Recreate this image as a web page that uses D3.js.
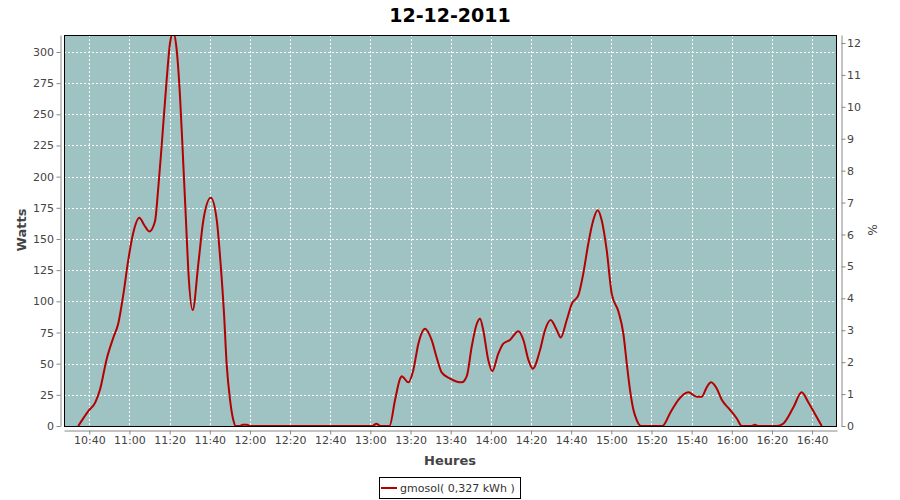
<!DOCTYPE html>
<html>
<head>
<meta charset="utf-8">
<script src="https://cdn.jsdelivr.net/npm/d3@7"></script>
<style>
  html, body { margin: 0; padding: 0; background: #fff; }
  svg { display: block; font-family: "DejaVu Sans", sans-serif; }
</style>
</head>
<body>
<svg id="chart" width="900" height="500"></svg>
<script>
// ---- data ----
const title = "12-12-2011";
const seriesName = "gmosol( 0,327 kWh )";
const times = [
  "10:34:30","10:39:30","10:43:00","10:45:18","10:48:42","10:52:00","10:54:24","10:57:00","10:59:24",
  "11:01:54","11:04:54","11:07:24","11:09:54","11:12:42","11:14:24","11:16:00","11:18:30","11:20:12",
  "11:21:48","11:23:30","11:25:12","11:26:48","11:28:12","11:29:18","11:31:30","11:34:18","11:36:48",
  "11:40:30","11:43:30","11:45:24","11:47:06","11:48:24","11:50:06","11:51:42","11:52:54","11:55:00",
  "11:56:30","11:58:30","12:00:00","12:30:00","13:01:00","13:03:00","13:05:00","13:09:30","13:12:18",
  "13:14:48","13:15:36","13:18:54","13:21:24","13:23:54","13:27:12","13:30:30","13:33:00","13:35:30",
  "13:39:42","13:45:30","13:48:00","13:50:30","13:53:00","13:54:36","13:56:12","13:58:42","14:00:42",
  "14:03:42","14:06:12","14:09:30","14:13:42","14:16:12","14:18:42","14:20:54","14:24:30","14:27:00",
  "14:29:48","14:32:48","14:34:48","14:37:48","14:40:18","14:43:36","14:46:00","14:48:30","14:51:00",
  "14:53:12","14:55:12","14:57:42","15:00:12","15:03:30","15:06:00","15:07:42","15:09:18","15:11:00",
  "15:12:36","15:14:48","15:20:00","15:25:24","15:29:30","15:33:24","15:38:24","15:42:30","15:45:00",
  "15:47:30","15:49:42","15:52:30","15:55:00","15:59:06","16:02:30","16:05:00","16:10:00","16:11:30",
  "16:13:00","16:22:24","16:25:42","16:30:42","16:34:48","16:38:06","16:40:36","16:44:48"
];
const watts = [
  0,12,19,29,54,71,82,106,133,
  155,167,161,156,164,192,224,277,307,
  316,302,264,211,163,125,93,130,165,
  183,165,130,90,50,21,5,0,0,
  1,1,0,0,0,1.8,0,0,21,
  38,40,35,45,66,78,69,55,43,
  38,35,40,64,82,86,77,53,44,
  58,66,69,76,69,53,46,61,77,
  85,77,71,85,98,105,122,146,165,
  173,165,141,106,92,74,50,29,13,
  5,0,0,0,11,21,27,23.5,23.5,
  31,35,30,21,13,6,0,0,1,
  0,0,2,15,27,19,12,0
];
const wattTicks = [0,25,50,75,100,125,150,175,200,225,250,275,300];
const pctTicks = [0,1,2,3,4,5,6,7,8,9,10,11,12];
const hourTicks = ["10:40","11:00","11:20","11:40","12:00","12:20","12:40","13:00","13:20","13:40",
                   "14:00","14:20","14:40","15:00","15:20","15:40","16:00","16:20","16:40"];
const xDomain = ["10:27:24","16:52:24"];
const wattMax = 313.6;
const pctMax = 12.25;

// ---- layout ----
const day = "2011-12-12T";
const parseT = s => new Date(day + (s.length === 5 ? s + ":00" : s));
const plot = {left: 64, top: 35, right: 837, bottom: 426};
const svg = d3.select("#chart");

const x = d3.scaleTime().domain(xDomain.map(parseT)).range([plot.left, plot.right]);
const y = d3.scaleLinear().domain([0, wattMax]).range([plot.bottom, plot.top]);
const y2 = d3.scaleLinear().domain([0, pctMax]).range([plot.bottom, plot.top]);

// background
svg.append("rect").attr("x", plot.left).attr("y", plot.top)
  .attr("width", plot.right - plot.left).attr("height", plot.bottom - plot.top)
  .attr("fill", "#9ec3c2");

// grid
const grid = svg.append("g").attr("stroke", "#ffffff").attr("stroke-width", 1).attr("stroke-dasharray", "2,2");
hourTicks.forEach(t => {
  const gx = Math.round(x(parseT(t))) + 0.5;
  grid.append("line").attr("x1", gx).attr("x2", gx).attr("y1", plot.top).attr("y2", plot.bottom);
});
wattTicks.forEach(v => {
  const gy = Math.round(y(v)) + 0.5;
  grid.append("line").attr("x1", plot.left).attr("x2", plot.right).attr("y1", gy).attr("y2", gy);
});

// line
svg.append("clipPath").attr("id", "clip").append("rect")
  .attr("x", plot.left).attr("y", plot.top).attr("width", plot.right - plot.left).attr("height", plot.bottom - plot.top);
const data = times.map((t, i) => ({t: parseT(t), v: watts[i]}));
const line = d3.line().x(d => x(d.t)).y(d => y(d.v)).curve(d3.curveMonotoneX);
svg.append("path").datum(data).attr("clip-path", "url(#clip)")
  .attr("d", line).attr("fill", "none").attr("stroke", "#b40000").attr("stroke-width", 2)
  .attr("stroke-linejoin", "round");

// plot outline
svg.append("rect").attr("x", plot.left + 0.5).attr("y", plot.top + 0.5)
  .attr("width", plot.right - plot.left - 1).attr("height", plot.bottom - plot.top)
  .attr("fill", "none").attr("stroke", "#000").attr("stroke-width", 1);

// axes
function styleAxis(g) {
  g.selectAll("path.domain").attr("stroke", "#888");
  g.selectAll(".tick line").attr("stroke", "#888");
  g.selectAll("text").attr("fill", "#444").attr("font-size", "11px").attr("font-family", "DejaVu Sans, sans-serif");
}
const gl = svg.append("g").attr("transform", "translate(60.5,0)")
  .call(d3.axisLeft(y).tickValues(wattTicks).tickSize(4).tickSizeOuter(0).tickPadding(2.5));
styleAxis(gl);
const gr = svg.append("g").attr("transform", "translate(841.5,0)")
  .call(d3.axisRight(y2).tickValues(pctTicks).tickSize(4).tickSizeOuter(0).tickPadding(1.5).tickFormat(d3.format("d")));
styleAxis(gr);
const xs = d3.scaleTime().domain(x.domain()).range([plot.left, plot.right]);
const gb = svg.append("g").attr("transform", "translate(0,430.5)")
  .call(d3.axisBottom(xs).tickValues(hourTicks.map(parseT)).tickSize(4).tickSizeOuter(0).tickPadding(2)
        .tickFormat(d3.timeFormat("%H:%M")));
styleAxis(gb);

// titles
svg.append("text").attr("x", 450).attr("y", 22).attr("text-anchor", "middle")
  .attr("font-size", "19px").attr("font-weight", "bold").attr("fill", "#000").text(title);
svg.append("text").attr("transform", "translate(26,230) rotate(-90)").attr("text-anchor", "middle")
  .attr("font-size", "13px").attr("font-weight", "bold").attr("fill", "#444").text("Watts");
svg.append("text").attr("x", 450).attr("y", 465).attr("text-anchor", "middle")
  .attr("font-size", "13px").attr("font-weight", "bold").attr("fill", "#444").text("Heures");
svg.append("text").attr("transform", "translate(868,230) rotate(90)").attr("text-anchor", "middle")
  .attr("font-size", "12px").attr("fill", "#444").text("%");

// legend
const lg = svg.append("g");
lg.append("rect").attr("x", 379.5).attr("y", 477.5).attr("width", 141).attr("height", 21)
  .attr("fill", "#fff").attr("stroke", "#000").attr("stroke-width", 1);
lg.append("line").attr("x1", 381).attr("x2", 397).attr("y1", 488).attr("y2", 488)
  .attr("stroke", "#b40000").attr("stroke-width", 2);
lg.append("text").attr("x", 400).attr("y", 492).attr("font-size", "11px").attr("fill", "#333").text(seriesName);
</script>
</body>
</html>
